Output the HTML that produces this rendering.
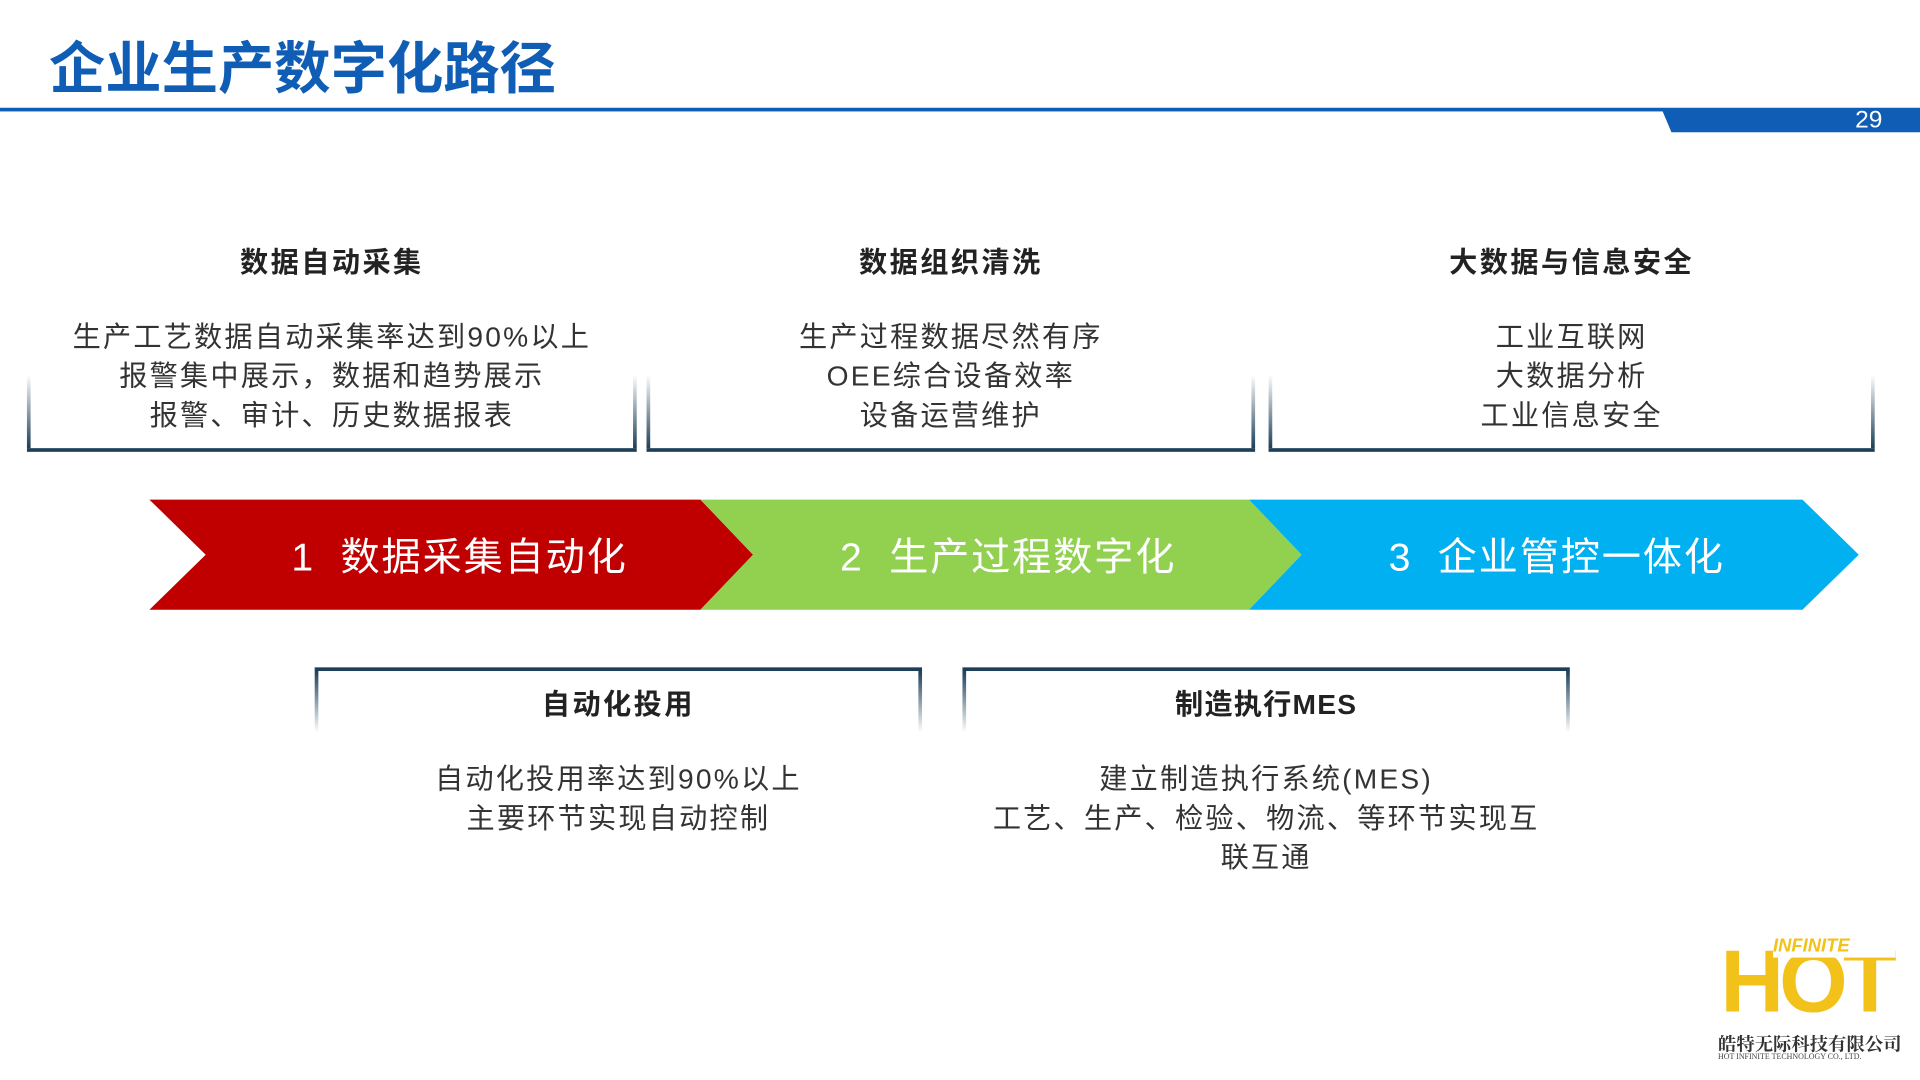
<!DOCTYPE html>
<html><head><meta charset="utf-8"><style>
html,body{margin:0;padding:0;background:#fff;width:1920px;height:1080px;overflow:hidden}
#s{position:absolute;left:0;top:0;width:1568px;height:882px;transform:scale(1.22449);transform-origin:0 0;font-family:"Liberation Sans","Noto Sans CJK SC",sans-serif;color:#333}
.a{position:absolute}
.t{position:absolute;text-align:center;font-weight:bold;font-size:23px;letter-spacing:2px;color:#222}
.b{position:absolute;text-align:center;font-size:23px;line-height:32px;letter-spacing:1.8px;color:#333}
.bx{position:absolute;border-bottom:3px solid #1d3f58;}
.bx:before,.bx:after{content:"";position:absolute;bottom:0;width:3px;height:60px;background:linear-gradient(#fff,#1d3f58)}
.bx:before{left:0}.bx:after{right:0}
.bt{position:absolute;border-top:3px solid #1d3f58;}
.bt:before,.bt:after{content:"";position:absolute;top:0;width:3px;height:50px;background:linear-gradient(#1d3f58,#fff)}
.bt:before{left:0}.bt:after{right:0}
.ar{position:absolute;top:430px;color:#fff;font-size:32px;white-space:pre;letter-spacing:1.5px}
</style></head><body><div id="s">
<div class="a" style="left:40px;top:28px;font-size:46px;font-weight:bold;color:#0f5db5;line-height:56px">企业生产数字化路径</div>
<div class="a" style="left:0;top:88px;width:1568px;height:3px;background:#0f5db5"></div>
<svg class="a" style="left:0;top:0" width="1568" height="882">
<polygon points="1357,89 1568,89 1568,108 1365,108" fill="#0f5db5"/>
<polygon points="122,408 572,408 615,453 572,498 122,498 168,453" fill="#c00000"/>
<polygon points="572,408 1020,408 1063,453 1020,498 572,498 615,453" fill="#92d050"/>
<polygon points="1020,408 1472,408 1518,453 1472,498 1020,498 1063,453" fill="#00b0f0"/>
</svg>
<div class="a" style="left:1515px;top:87px;color:#fff;font-size:20px">29</div>

<div class="bx" style="left:22px;top:300px;width:498px;height:66px"></div>
<div class="bx" style="left:528px;top:300px;width:497px;height:66px"></div>
<div class="bx" style="left:1036px;top:300px;width:495px;height:66px"></div>

<div class="t" style="left:22px;top:195px;width:498px">数据自动采集</div>
<div class="t" style="left:528px;top:195px;width:497px">数据组织清洗</div>
<div class="t" style="left:1036px;top:195px;width:495px">大数据与信息安全</div>

<div class="b" style="left:22px;top:259px;width:498px">生产工艺数据自动采集率达到90%以上<br>报警集中展示，数据和趋势展示<br>报警、审计、历史数据报表</div>
<div class="b" style="left:528px;top:259px;width:497px">生产过程数据尽然有序<br>OEE综合设备效率<br>设备运营维护</div>
<div class="b" style="left:1036px;top:259px;width:495px">工业互联网<br>大数据分析<br>工业信息安全</div>

<div class="ar" style="left:238px">1  数据采集自动化</div>
<div class="ar" style="left:686px">2  生产过程数字化</div>
<div class="ar" style="left:1134px">3  企业管控一体化</div>

<div class="bt" style="left:257px;top:545px;width:496px;height:60px"></div>
<div class="bt" style="left:786px;top:545px;width:496px;height:60px"></div>
<div class="t" style="left:257px;top:556px;width:496px">自动化投用</div>
<div class="t" style="left:786px;top:556px;width:496px;letter-spacing:1px">制造执行MES</div>
<div class="b" style="left:257px;top:620px;width:496px">自动化投用率达到90%以上<br>主要环节实现自动控制</div>
<div class="b" style="left:786px;top:620px;width:496px">建立制造执行系统(MES)<br>工艺、生产、检验、物流、等环节实现互<br>联互通</div>

<div class="a" style="left:1405px;top:772px;font-size:72px;line-height:60px;font-weight:bold;color:#f2c21b;letter-spacing:-4px">HOT</div>
<div class="a" style="left:1448px;top:764px;width:100px;height:18px;background:#fff"></div>
<div class="a" style="left:1448px;top:764px;font-size:15px;font-weight:bold;color:#f2c21b;font-style:italic">INFINITE</div>
<div class="a" style="left:1403px;top:842px;font-size:15px;font-weight:bold;color:#333;font-family:'Liberation Serif','Noto Serif CJK SC',serif">皓特无际科技有限公司</div>
<div class="a" style="left:1403px;top:860px;font-size:6.5px;color:#444;font-family:'Liberation Serif',serif;white-space:nowrap">HOT INFINITE TECHNOLOGY CO., LTD.</div>
</div></body></html>
